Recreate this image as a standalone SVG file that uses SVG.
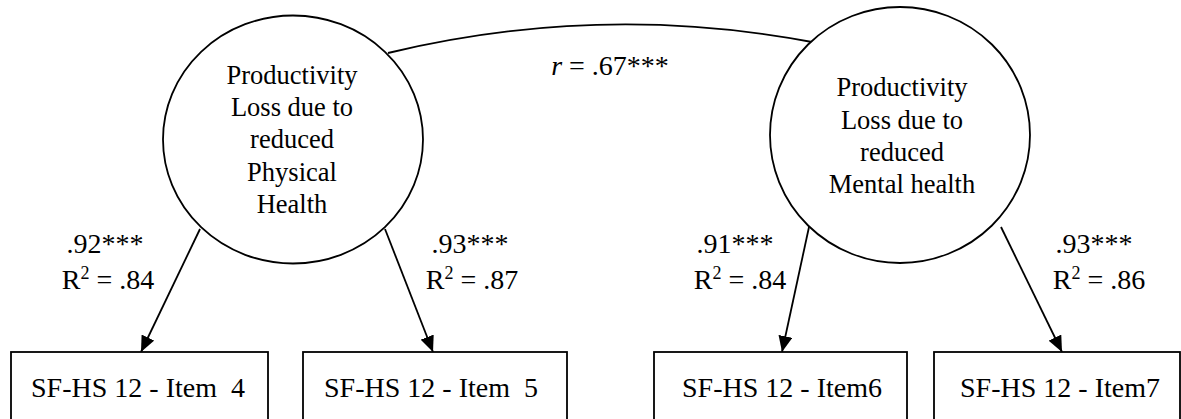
<svg xmlns="http://www.w3.org/2000/svg" width="1181" height="419" viewBox="0 0 1181 419">
<style>
  .shape { fill: #ffffff; stroke: #000000; stroke-width: 1.8; }
  .conn { fill: none; stroke: #000000; stroke-width: 1.8; }
  .t { fill: #000000; text-anchor: middle; }
  .lat { font-size: 26.5px; }
  .box { font-size: 28px; }
  .lbl { font-size: 28px; }
</style>
<defs>
  <marker id="arrow" markerUnits="userSpaceOnUse" markerWidth="16" markerHeight="14" refX="16" refY="7" orient="auto">
    <path d="M0,0 L16,7 L0,14 Z" fill="#000000"/>
  </marker>
</defs>
<rect width="1181" height="419" fill="#ffffff"/>

<g id="connectors">
  <path class="conn" d="M388,53 Q600,2 812,42"/>
  <line class="conn" x1="200" y1="229" x2="141" y2="352" marker-end="url(#arrow)"/>
  <line class="conn" x1="385" y1="229" x2="433" y2="352" marker-end="url(#arrow)"/>
  <line class="conn" x1="809" y1="227" x2="782" y2="352" marker-end="url(#arrow)"/>
  <line class="conn" x1="1001" y1="227" x2="1062" y2="352" marker-end="url(#arrow)"/>
</g>

<g font-family="Liberation Serif">
<g id="labels">
  <text class="t lbl" x="610" y="75"><tspan font-style="italic">r</tspan> = .67***</text>
  <text class="t lbl" x="105" y="253">.92***</text>
  <text class="t lbl" x="108" y="289">R<tspan font-size="18" dy="-10">2</tspan><tspan dy="10"> = .84</tspan></text>
  <text class="t lbl" x="470" y="253">.93***</text>
  <text class="t lbl" x="472" y="289">R<tspan font-size="18" dy="-10">2</tspan><tspan dy="10"> = .87</tspan></text>
  <text class="t lbl" x="735" y="253">.91***</text>
  <text class="t lbl" x="740" y="289">R<tspan font-size="18" dy="-10">2</tspan><tspan dy="10"> = .84</tspan></text>
  <text class="t lbl" x="1094" y="253">.93***</text>
  <text class="t lbl" x="1099" y="289">R<tspan font-size="18" dy="-10">2</tspan><tspan dy="10"> = .86</tspan></text>
</g>

<g id="latent-physical">
  <ellipse class="shape" cx="293" cy="139.5" rx="130" ry="124"/>
  <text class="t lat" x="292" y="84">Productivity</text>
  <text class="t lat" x="292" y="116">Loss due to</text>
  <text class="t lat" x="292" y="148">reduced</text>
  <text class="t lat" x="292" y="181">Physical</text>
  <text class="t lat" x="292" y="213">Health</text>
</g>

<g id="latent-mental">
  <ellipse class="shape" cx="900" cy="135" rx="130" ry="128"/>
  <text class="t lat" x="902" y="96">Productivity</text>
  <text class="t lat" x="902" y="128.5">Loss due to</text>
  <text class="t lat" x="902" y="161">reduced</text>
  <text class="t lat" x="902" y="193">Mental health</text>
</g>

<g id="item4">
  <rect class="shape" x="11" y="352" width="257" height="80"/>
  <text class="t box" x="138" y="397" xml:space="preserve">SF-HS 12 - Item  4</text>
</g>
<g id="item5">
  <rect class="shape" x="303" y="352" width="264" height="80"/>
  <text class="t box" x="431" y="397" xml:space="preserve">SF-HS 12 - Item  5</text>
</g>
<g id="item6">
  <rect class="shape" x="654" y="352" width="253" height="80"/>
  <text class="t box" x="782" y="397">SF-HS 12 - Item6</text>
</g>
<g id="item7">
  <rect class="shape" x="934" y="352" width="246" height="80"/>
  <text class="t box" x="1060" y="397">SF-HS 12 - Item7</text>
</g>
</g>
</svg>
